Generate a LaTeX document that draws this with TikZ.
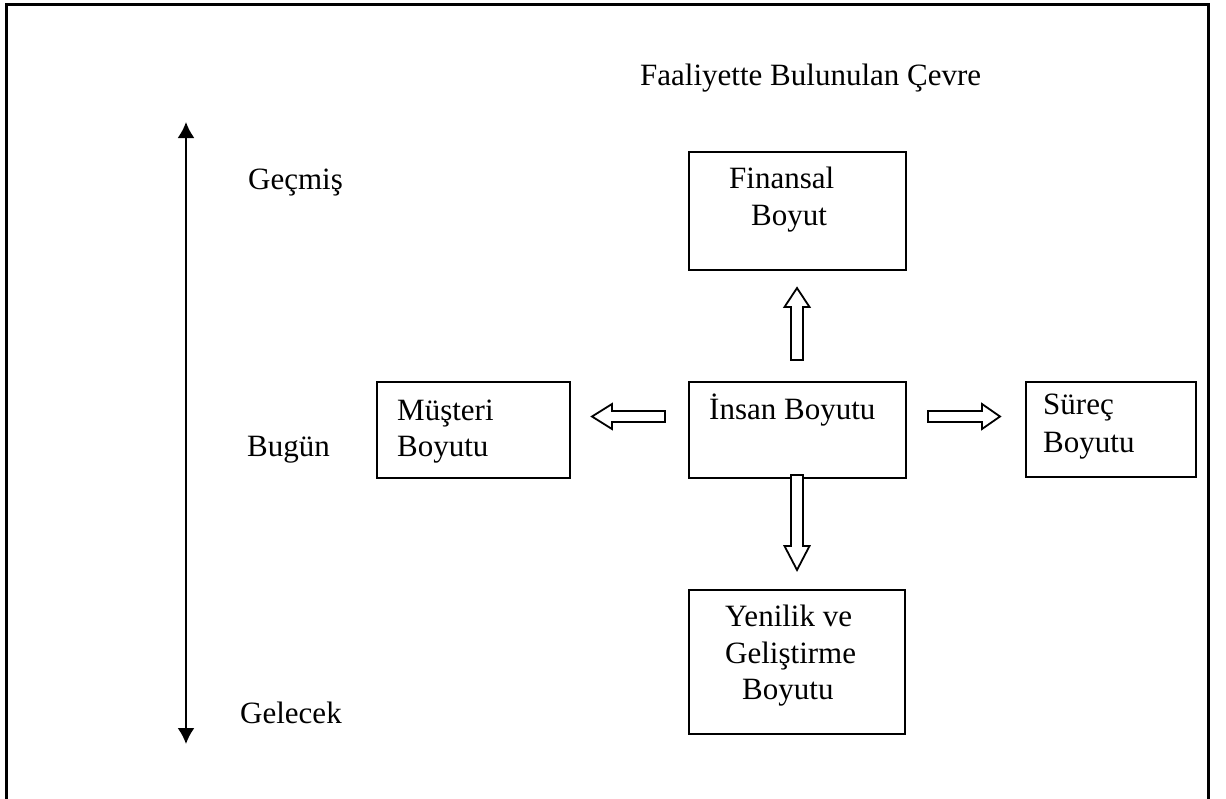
\documentclass[tikz,border=0pt]{standalone}
\usepackage{fontspec}
\setmainfont{Liberation Serif}
\usetikzlibrary{arrows.meta}
\begin{document}
\begin{tikzpicture}[x=1pt,y=-1pt,
  box/.style={draw,line width=2pt,inner sep=0pt,anchor=north west},
  lbl/.style={anchor=base west,inner sep=0pt,font=\fontsize{31}{37}\selectfont},
  blockarrow/.style={draw,line width=1.8pt,fill=white,line join=miter},
  timeaxis/.style={line width=2pt,{Latex[length=16pt,width=17pt]}-{Latex[length=16pt,width=17pt]}}]
\useasboundingbox (0,0) rectangle (1226,798);
% outer frame (open at the bottom)
\draw[line width=3pt] (6,800) -- (6,4) -- (1208,4) -- (1208,800);

% boxes
\node[box,minimum width=217pt,minimum height=118pt] (fin) at (688,151) {};
\node[box,minimum width=217pt,minimum height=96pt] (insan) at (688,381) {};
\node[box,minimum width=193pt,minimum height=96pt] (mus) at (376,381) {};
\node[box,minimum width=170pt,minimum height=95pt] (sur) at (1025,381) {};
\node[box,minimum width=216pt,minimum height=144pt] (yen) at (688,589) {};

% texts
\node[lbl] (title) at (640,85) {Faaliyette Bulunulan Çevre};
\node[lbl] (gecmis) at (248,189) {Geçmiş};
\node[lbl] (bugun) at (247,456) {Bugün};
\node[lbl] (gelecek) at (240,723) {Gelecek};
\node[lbl] (fin1) at (729,188) {Finansal};
\node[lbl] (fin2) at (751,225) {Boyut};
\node[lbl] (ins1) at (709,419) {İnsan Boyutu};
\node[lbl] (mus1) at (397,420) {Müşteri};
\node[lbl] (mus2) at (397,456) {Boyutu};
\node[lbl] (sur1) at (1043,414) {Süreç};
\node[lbl] (sur2) at (1043,452) {Boyutu};
\node[lbl] (yen1) at (725,626) {Yenilik ve};
\node[lbl] (yen2) at (725,663) {Geliştirme};
\node[lbl] (yen3) at (742,699) {Boyutu};

% time axis
\coordinate (past) at (186,122);
\coordinate (future) at (186,744);
\draw[timeaxis] (past) -- (future);

% block arrows
% up
\draw[blockarrow] (791,360) -- (791,307) -- (784.5,307) -- (797,288) -- (809.5,307) -- (803,307) -- (803,360) -- cycle;
% down
\draw[blockarrow] (791,475) -- (791,546) -- (784.5,546) -- (797,570) -- (809.5,546) -- (803,546) -- (803,475) -- cycle;
% left
\draw[blockarrow] (665,411) -- (612,411) -- (612,404) -- (592,416.5) -- (612,429) -- (612,422) -- (665,422) -- cycle;
% right
\draw[blockarrow] (928,411) -- (982,411) -- (982,404) -- (1000,416.5) -- (982,429) -- (982,422) -- (928,422) -- cycle;
\end{tikzpicture}
\end{document}
